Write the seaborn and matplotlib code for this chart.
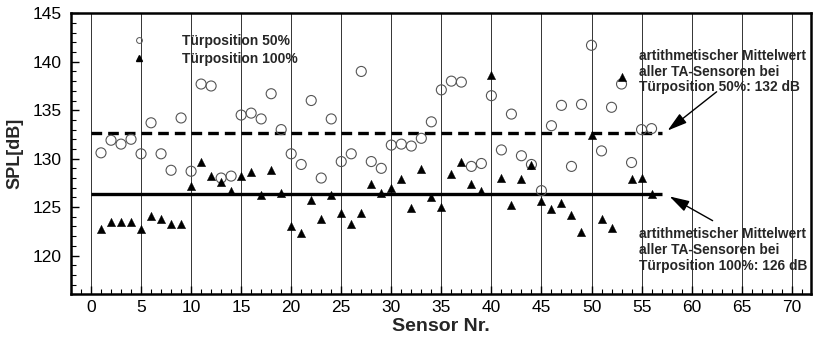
import numpy as np
import pandas as pd
import matplotlib
matplotlib.use("Agg")
import matplotlib.pyplot as plt
from matplotlib.lines import Line2D
from matplotlib.ticker import MultipleLocator
import seaborn as sns

# Sensor numbers and measured sound pressure levels (dB)
sensors = list(range(1, 57))
spl_door_50 = [
    130.6, 131.9, 131.5, 132.0, 130.5, 133.7, 130.5, 128.8, 134.2, 128.7,
    137.7, 137.5, 128.0, 128.2, 134.5, 134.7, 134.1, 136.7, 133.0, 130.5,
    129.4, 136.0, 128.0, 134.1, 129.7, 130.5, 139.0, 129.7, 129.0, 131.4,
    131.5, 131.3, 132.1, 133.8, 137.1, 138.0, 137.9, 129.2, 129.5, 136.5,
    130.9, 134.6, 130.3, 129.4, 126.7, 133.4, 135.5, 129.2, 135.6, 141.7,
    130.8, 135.3, 137.7, 129.6, 133.0, 133.1,
]
spl_door_100 = [
    122.7, 123.5, 123.5, 123.5, 122.7, 124.1, 123.8, 123.3, 123.3, 127.2,
    129.7, 128.2, 127.6, 126.7, 128.2, 128.6, 126.2, 128.8, 126.5, 123.0,
    122.3, 125.7, 123.8, 126.2, 124.4, 123.3, 124.4, 127.4, 126.5, 127.0,
    127.9, 124.9, 128.9, 126.0, 125.0, 128.4, 129.7, 127.4, 126.7, 138.6,
    128.0, 125.2, 127.9, 129.3, 125.6, 124.8, 125.4, 124.2, 122.4, 132.4,
    123.8, 122.8, 138.4, 127.9, 128.0, 126.4,
]
series_labels = ["Türposition 50%", "Türposition 100%"]
x_ticks = list(range(0, 71, 5))
y_ticks = list(range(120, 146, 5))

mean_50 = float(np.mean(spl_door_50))
mean_100 = float(np.mean(spl_door_100))

df50 = pd.DataFrame({"sensor": sensors, "spl": spl_door_50})
df100 = pd.DataFrame({"sensor": sensors, "spl": spl_door_100})

sns.set_style("white")
plt.rcParams["font.family"] = ["Liberation Sans", "DejaVu Sans"]

fig = plt.figure(figsize=(8.13, 3.37), dpi=100)
ax = fig.add_axes([0.0873, 0.1267, 0.9099, 0.8338])

# vertical grid at the major sensor ticks
ax.set_axisbelow(True)
ax.grid(axis="x", which="major", color="#333333", linewidth=0.7)
ax.grid(axis="y", visible=False)

# mean lines over the sensor range
line_end = 57
ax.hlines(mean_50, 0, line_end, colors="black", linewidth=2.4,
          linestyles=(0, (3.2, 1.8)), zorder=2)
ax.hlines(mean_100, 0, line_end, colors="black", linewidth=2.4, zorder=2)

sns.scatterplot(data=df50, x="sensor", y="spl", ax=ax, marker="o", s=52,
                facecolor="none", edgecolor="#555555", linewidth=0.8,
                label=series_labels[0], zorder=3, legend=False)
sns.scatterplot(data=df100, x="sensor", y="spl", ax=ax, marker="^", s=36,
                color="black", edgecolor="black", linewidth=0.3,
                label=series_labels[1], zorder=4, legend=False)

ax.set_xlim(-2, 71.9)
ax.set_ylim(116, 145)
ax.set_xticks(x_ticks)
ax.set_yticks(y_ticks)
ax.xaxis.set_minor_locator(MultipleLocator(1))
ax.yaxis.set_minor_locator(MultipleLocator(1))
ax.tick_params(which="both", direction="in", top=False, right=False,
               bottom=True, left=True, colors="black", labelsize=12.5)
ax.tick_params(which="major", length=6, width=1.0)
ax.tick_params(which="minor", length=3.5, width=0.8)
ax.tick_params(axis="x", pad=4)
ax.tick_params(axis="y", pad=7)

for sp in ax.spines.values():
    sp.set_visible(True)
    sp.set_color("black")
    sp.set_linewidth(1.8)

ax.set_xlabel("Sensor Nr.", fontsize=14, fontweight="bold", labelpad=2)
ax.set_ylabel("SPL[dB]", fontsize=13, fontweight="bold", labelpad=6)

handles = [
    Line2D([], [], marker="o", linestyle="none", markersize=4.2,
           markerfacecolor="none", markeredgecolor="#555555", markeredgewidth=0.7),
    Line2D([], [], marker="^", linestyle="none", markersize=4.2,
           color="black"),
]
ax.legend(handles, series_labels, loc="upper left",
          bbox_to_anchor=(0.069, 0.962), frameon=False,
          prop={"weight": "bold", "size": 10}, handlelength=1.0,
          handletextpad=2.6, labelspacing=0.3, borderpad=0.2)

note_style = dict(fontsize=9.9, fontweight="bold", ha="left", va="top",
                  linespacing=1.15)
arrow_style = dict(arrowstyle="-|>,head_length=1.2,head_width=0.35",
                   color="black", lw=1.0, shrinkA=0, shrinkB=0)

ax.annotate("", xy=(57.6, 132.9), xytext=(62.5, 136.9),
            arrowprops=arrow_style, zorder=5)
ax.text(54.7, 141.3,
        "artithmetischer Mittelwert\naller TA-Sensoren bei\n"
        f"{series_labels[0]}: {int(mean_50)} dB", **note_style)

ax.annotate("", xy=(57.8, 126.1), xytext=(62.1, 123.6),
            arrowprops=arrow_style, zorder=5)
ax.text(54.7, 122.9,
        "artithmetischer Mittelwert\naller TA-Sensoren bei\n"
        f"{series_labels[1]}: {int(mean_100)} dB", **note_style)

fig.savefig("out.png", dpi=100)
